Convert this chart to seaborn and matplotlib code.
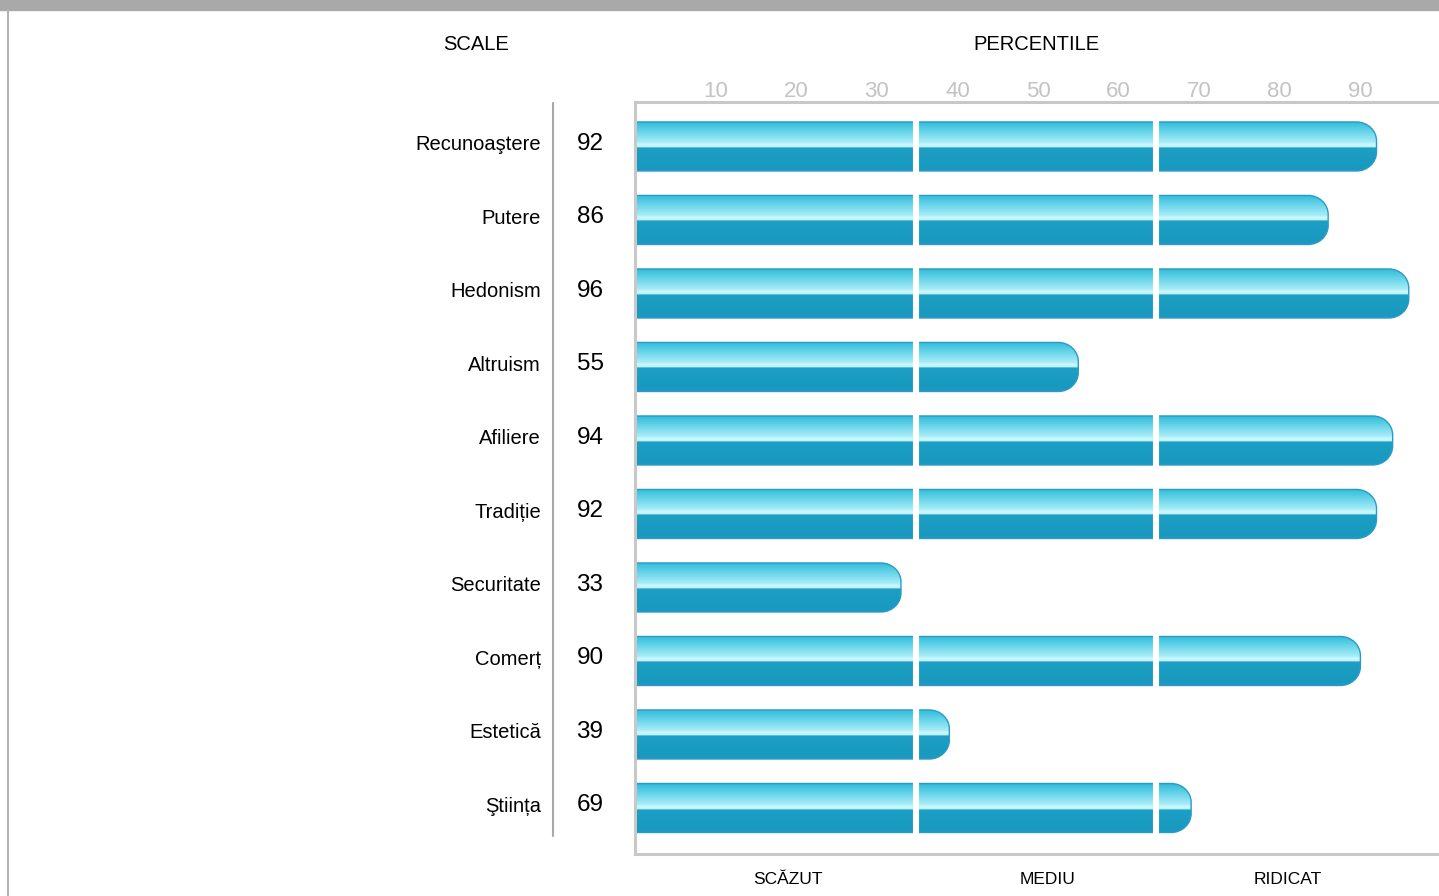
import numpy as np
import pandas as pd
import matplotlib.pyplot as plt
import seaborn as sns
from matplotlib.patches import PathPatch, Rectangle
from matplotlib.path import Path
from matplotlib.lines import Line2D
from matplotlib.colors import to_rgb

# data
scales = ['Recunoaştere', 'Putere', 'Hedonism', 'Altruism', 'Afiliere',
          'Tradiție', 'Securitate', 'Comerț', 'Estetică', 'Ştiința']
scores = [92, 86, 96, 55, 94, 92, 33, 90, 39, 69]
percentile_ticks = [10, 20, 30, 40, 50, 60, 70, 80, 90]
levels = ['SCĂZUT', 'MEDIU', 'RIDICAT']
level_x = [19, 51.2, 81]          # where the level names sit (percentile units)
level_cuts = [34.85, 64.6]         # white gaps between the level segments

df = pd.DataFrame({'scale': scales, 'score': scores})

sns.set_style('white')
plt.rcParams['font.family'] = ['Liberation Sans', 'DejaVu Sans']
plt.rcParams['text.color'] = 'black'

W, H = 1439, 896
fig = plt.figure(figsize=(W / 100, H / 100), dpi=100)
ax = fig.add_axes([635 / W, 1 - 854 / H, 806 / W, (854 - 102) / H])

sns.barplot(data=df, x='score', y='scale', orient='h', width=0.667,
            color='#1a9cc2', ax=ax)

# glossy gradient used inside each bar (top = row 0)
stops = [(0.0, '#2aa0c8'), (0.04, '#3bbfdc'), (0.10, '#46c7e1'),
         (0.42, '#a6ecf7'), (0.47, '#cdf8fd'), (0.52, '#bff2fa'),
         (0.535, '#1d9fc4'), (0.95, '#189ac0'), (1.0, '#2a95c2')]
pos = np.linspace(0, 1, 300)
cols = np.array([to_rgb(c) for _, c in stops])
sp = [s for s, _ in stops]
grad = np.stack([np.interp(pos, sp, cols[:, k]) for k in range(3)], axis=1)[:, None, :]


def round_end(x0, y0, w, h, rx, ry):
    # bar outline with square left side and rounded right corners
    k = 0.5523
    xr, yb = x0 + w, y0 + h
    verts = [(x0, y0), (xr - rx, y0),
             (xr - rx + k * rx, y0), (xr, y0 + ry - k * ry), (xr, y0 + ry),
             (xr, yb - ry),
             (xr, yb - ry + k * ry), (xr - rx + k * rx, yb), (xr - rx, yb),
             (x0, yb), (x0, y0)]
    codes = [Path.MOVETO, Path.LINETO,
             Path.CURVE4, Path.CURVE4, Path.CURVE4,
             Path.LINETO,
             Path.CURVE4, Path.CURVE4, Path.CURVE4,
             Path.LINETO, Path.CLOSEPOLY]
    return Path(verts, codes)


rx, ry = 20 / 8.063, 19 / 73.5   # corner radius in data units
bars = list(ax.patches)
for p in bars:
    x0, y0, w, h = p.get_x(), p.get_y(), p.get_width(), p.get_height()
    p.set_visible(False)
    shape = PathPatch(round_end(x0 - 2, y0, w + 2, h, rx, ry), facecolor='none',
                      edgecolor='#2b9bc6', lw=1, zorder=3)
    ax.add_patch(shape)
    im = ax.imshow(grad, extent=(x0 - 2, x0 + w, y0 + h, y0), aspect='auto',
                   interpolation='bilinear', zorder=2)
    im.set_clip_path(shape)

for c in level_cuts:
    ax.axvline(c, color='white', lw=4.4, zorder=4)

ax.set_xlim(0, 100)
ax.set_ylim(9.626, -0.605)

for side, s in ax.spines.items():
    s.set_color('#c8c8c8')
    s.set_linewidth(2.2)
    s.set_zorder(5)

ax.xaxis.tick_top()
ax.set_xticks(percentile_ticks)
ax.tick_params(axis='x', length=0, pad=0, labelsize=16, labelcolor='#c3c3c3')
ax.set_yticks(np.arange(len(scales)) - 0.05, labels=scales)
ax.tick_params(axis='y', length=0, pad=67.7, labelsize=14.5, labelcolor='black')
ax.set_xlabel('')
ax.set_ylabel('')

# score numbers next to the bars
for i, v in enumerate(scores):
    ax.text(-5.58, i - 0.04, str(v), ha='center', va='center', fontsize=17.5,
            color='black', clip_on=False)

# level names under the chart
for name, x in zip(levels, level_x):
    ax.text(x, -25 / 752, name, ha='center', va='center', fontsize=12.5,
            transform=ax.get_xaxis_transform(), clip_on=False)

fig.text(476 / W, 1 - 45 / H, 'SCALE', ha='center', va='center', fontsize=14.5)
fig.text(1036 / W, 1 - 45 / H, 'PERCENTILE', ha='center', va='center', fontsize=14.5)

# page decoration: grey header strip, left border and separator line
fig.add_artist(Rectangle((0, 1 - 10 / H), 1, 10 / H, color='#a9a9a9',
                         transform=fig.transFigure))
fig.add_artist(Line2D([8 / W, 8 / W], [0, 1 - 10 / H], color='#b3b3b3', lw=1.5))
fig.add_artist(Line2D([553 / W, 553 / W], [1 - 836 / H, 1 - 103 / H],
                      color='#a8a8a8', lw=1.5))

fig.savefig('out.png', dpi=100)
